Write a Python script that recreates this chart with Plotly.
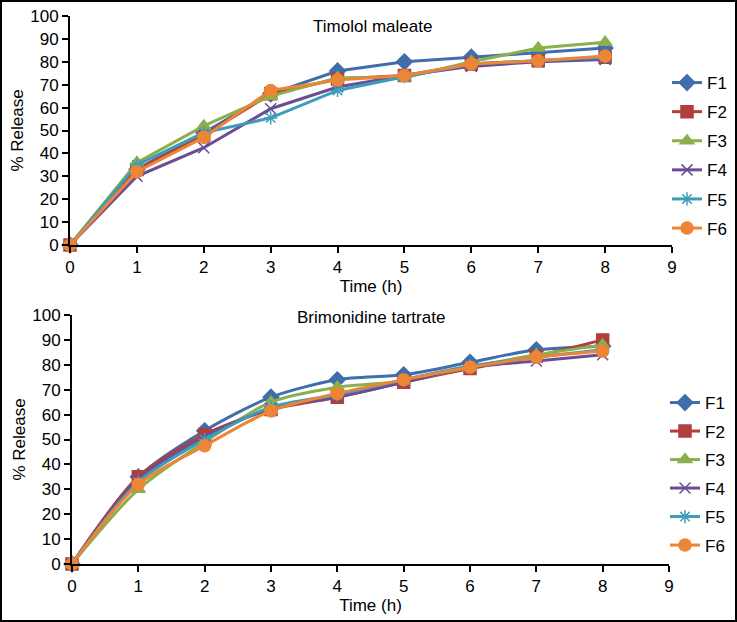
import plotly.graph_objects as go

time_h = [0, 1, 2, 3, 4, 5, 6, 7, 8]
series_names = ["F1", "F2", "F3", "F4", "F5", "F6"]

# Timolol maleate (% release)
tim_F1 = [0, 33, 49, 66, 76, 80, 82, 84, 86]
tim_F2 = [0, 33, 48, 66, 72.5, 74, 79, 80.5, 82]
tim_F3 = [0, 36, 52, 65, 73, 73, 80, 86, 88.5]
tim_F4 = [0, 30, 42.5, 59.5, 69, 74, 78, 80, 81]
tim_F5 = [0, 35, 49, 55.5, 67.5, 73.5, 79, 80.5, 82]
tim_F6 = [0, 32, 47, 67.5, 72, 74, 79, 80.5, 82.5]

# Brimonidine tartrate (% release)
bri_F1 = [0, 35, 53.5, 67, 74, 76, 81, 86, 87.5]
bri_F2 = [0, 35, 52, 62, 67, 73, 78.5, 83.5, 90]
bri_F3 = [0, 30, 49, 65, 71, 73.5, 79, 84, 88]
bri_F4 = [0, 34, 51, 62.5, 67, 73, 79, 81.5, 84]
bri_F5 = [0, 33, 50, 63, 68, 74, 79.5, 83, 86]
bri_F6 = [0, 32, 47.5, 61.5, 68.5, 74, 79, 83, 85.5]

x_ticks = list(range(0, 10))
y_ticks = list(range(0, 101, 10))

colors = ["#3F6EAB", "#B13F3B", "#8CAF4E", "#6C4D94", "#3C9DBA", "#EC8636"]
symbols = ["diamond", "square", "triangle-up", "x-thin-open", "asterisk-open", "circle"]
sizes = [12, 12, 12, 11, 11, 12]

W, H = 737, 622
def px_x(p): return p / W
def px_y(p): return 1 - p / H

fig = go.Figure()

tim = [tim_F1, tim_F2, tim_F3, tim_F4, tim_F5, tim_F6]
bri = [bri_F1, bri_F2, bri_F3, bri_F4, bri_F5, bri_F6]

for i, name in enumerate(series_names):
    fig.add_trace(go.Scatter(
        x=time_h, y=tim[i], name=name, mode="lines+markers",
        line=dict(color=colors[i], width=3),
        marker=dict(symbol=symbols[i], size=sizes[i], color=colors[i],
                    line=dict(color=colors[i], width=1.5)),
        xaxis="x", yaxis="y", legend="legend", legendgroup="t" + name,
        cliponaxis=False))
for i, name in enumerate(series_names):
    fig.add_trace(go.Scatter(
        x=time_h, y=bri[i], name=name, mode="lines+markers",
        line=dict(color=colors[i], width=3, shape="spline", smoothing=0.8),
        marker=dict(symbol=symbols[i], size=sizes[i], color=colors[i],
                    line=dict(color=colors[i], width=1.5)),
        xaxis="x2", yaxis="y2", legend="legend2", legendgroup="b" + name,
        cliponaxis=False))

axis_common = dict(showline=True, linecolor="black", linewidth=2, ticks="outside",
                   tickcolor="black", tickwidth=2, ticklen=6, showgrid=False,
                   zeroline=False, automargin=False,
                   tickfont=dict(size=17, color="black"))

fig.update_layout(
    template="none",
    width=W, height=H, margin=dict(l=0, r=0, t=0, b=0, autoexpand=False),
    paper_bgcolor="white", plot_bgcolor="white",
    font=dict(family="Liberation Sans, Arial, sans-serif", color="black"),
    xaxis=dict(domain=[px_x(70), px_x(672)], range=[0, 9], tickvals=x_ticks,
               anchor="y", title=dict(text="Time (h)", font=dict(size=17), standoff=0),
               **axis_common),
    yaxis=dict(domain=[px_y(245), px_y(16)], range=[0, 100], tickvals=y_ticks,
               anchor="x", title=dict(text="% Release", font=dict(size=17), standoff=2),
               **axis_common),
    xaxis2=dict(domain=[px_x(72), px_x(669)], range=[0, 9], tickvals=x_ticks,
                anchor="y2", title=dict(text="Time (h)", font=dict(size=17), standoff=2),
                **axis_common),
    yaxis2=dict(domain=[px_y(564), px_y(315)], range=[0, 100], tickvals=y_ticks,
                anchor="x2", title=dict(text="% Release", font=dict(size=17), standoff=2),
                **axis_common),
    legend=dict(x=px_x(667), y=px_y(65), xanchor="left", yanchor="top",
                font=dict(size=17), tracegroupgap=4, itemwidth=30,
                bgcolor="rgba(0,0,0,0)"),
    legend2=dict(x=px_x(665), y=px_y(385), xanchor="left", yanchor="top",
                 font=dict(size=17), tracegroupgap=3.4, itemwidth=30,
                 bgcolor="rgba(0,0,0,0)"),
    annotations=[
        dict(text="Timolol maleate", x=px_x(372), y=px_y(15), xref="paper", yref="paper",
             showarrow=False, font=dict(size=17)),
        dict(text="Brimonidine tartrate", x=px_x(371), y=px_y(317), xref="paper", yref="paper",
             showarrow=False, font=dict(size=17)),
    ],
    shapes=[dict(type="rect", xref="paper", yref="paper", x0=0, y0=0, x1=1, y1=1,
                 line=dict(color="black", width=4))],
)

fig.write_html("out.html", config={"displayModeBar": False},
               post_script="document.body.style.margin='0';document.body.style.overflow='hidden';")
